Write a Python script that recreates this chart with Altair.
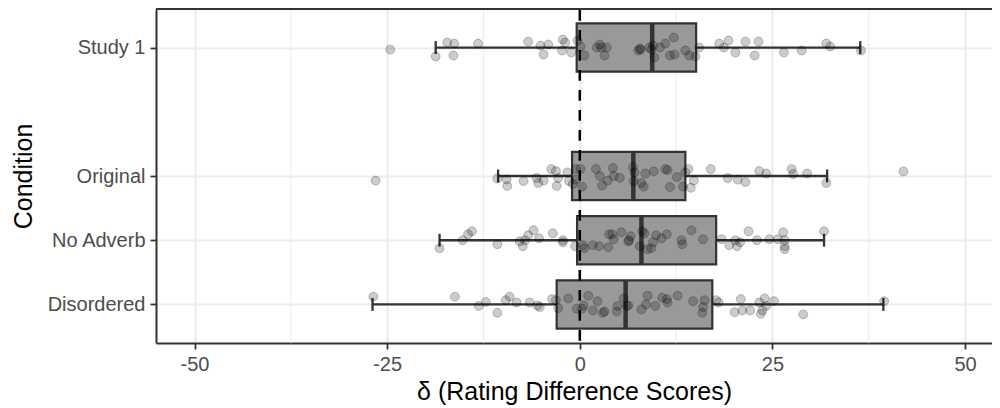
import altair as alt
import pandas as pd

# ---- summary statistics per condition ----
conditions = ["Study 1", "Original", "No Adverb", "Disordered"]
cond_pos = [5, 3, 2, 1]
q1 = [-0.4, -1.0, -0.35, -3.0]
median = [9.4, 6.95, 8.0, 5.95]
q3 = [15.1, 13.7, 17.7, 17.2]
whisker_lo = [-18.7, -10.6, -18.2, -26.9]
whisker_hi = [36.4, 32.1, 31.7, 39.4]

# ---- individual scores and their vertical jitter (downward offsets) ----
study1_scores = [-24.6, -18.7, -17.2, -16.3, -16.4, -13.2, -6.7, -5.1, -4.7, -4.1,
                 -2.2, -1.9, -2.3, -1.1, -0.3, 0.1, 0.6, 2.2, 2.8, 3.5,
                 3.2, 7.8, 7.9, 9.3, 9.7, 10.4, 11.1, 12.2, 11.7, 12.3,
                 13.7, 14.2, 15.0, 15.5, 18.1, 18.7, 19.3, 20.2, 21.5, 22.7,
                 23.2, 26.5, 28.8, 32.0, 32.5, 36.5, 9.0, 9.5, 7.6, 2.6]
study1_jitter = [2, 9, -5, -4, 8, -4, -6, -2, 7, -3,
                 -8, -5, 3, 5, -7, -1, 8, 0, 0, 0,
                 8, 1, 2, 2, 10, 0, -4, -10, 8, 7,
                 3, 8, 9, 0, -4, 0, -7, 5, -6, 8,
                 -6, 5, 3, -4, -1, 3, 0, -2, 3, -3]

original_scores = [-26.5, -10.7, -9.5, -9.4, -7.3, -5.6, -5.4, -4.7, -3.7, -3.1,
                   -3.0, -2.8, -1.6, -1.4, -0.9, -0.5, 0.1, 0.3, -0.5, 2.1,
                   2.6, 2.9, 3.6, 4.3, 4.4, 5.2, 6.9, 7.1, 7.0, 8.0,
                   8.3, 8.5, 9.6, 11.1, 11.4, 11.7, 12.6, 13.4, 13.7, 14.1,
                   14.4, 14.8, 17.0, 19.2, 20.5, 21.5, 23.3, 24.2, 27.5, 27.7,
                   29.5, 32.0, 42.0]
original_jitter = [4.6, 2.5, 3.5, 10, 5, 2, 7, 4.6, -7, -5,
                   10, 2, -3.6, 5, 8, -7, -7, 10.7, 3.6, -7,
                   0, 9.6, 4.6, -8, 0, 1.8, -9, -3.6, 5, 7,
                   10.7, -2.5, -4.6, -7, -6, 11, 1, 10.7, -3.6, -7,
                   11.8, 4.6, -7, 2, 3.6, 6, -5, -2.5, -7, -2,
                   -2.5, 7, -4.6]

noadverb_scores = [-18.2, -15.2, -14.5, -14.0, -10.7, -7.8, -7.4, -7.1, -6.7, -6.0,
                   -5.3, -3.5, -2.2, -2.2, -0.6, 0.4, 0.6, 1.7, 2.5, 3.7,
                   3.8, 4.2, 4.4, 5.4, 6.3, 6.4, 6.6, 7.8, 8.1, 8.4,
                   8.8, 9.3, 9.5, 9.9, 10.6, 11.3, 13.2, 13.3, 14.5, 16.0,
                   18.4, 19.4, 20.2, 20.4, 20.8, 21.9, 23.0, 24.6, 25.7, 26.4,
                   26.6, 26.6, 26.6, 31.7]
noadverb_jitter = [8, 0, -6, -9, 4, 1, 6, 0, -5, -10,
                   -2, -7, 0, 2, 6, 5, 8, 5, 6, 7,
                   -6, -6, -1, -8, 1, 0, -4, 6, -9, -7,
                   9, 8, 2, -5, -2, -6, 0, 4, -10, -1,
                   -1, 5, 0, 6, 2, -9, 0, -1, -1, -8,
                   0, 6, 9, -9]

disordered_scores = [-26.8, -16.2, -13.1, -12.2, -10.7, -9.6, -9.1, -8.2, -6.5, -5.5,
                     -5.2, -3.6, -3.1, -2.8, -1.5, -0.4, 0.3, 0.5, 1.1, 1.7,
                     2.3, 3.0, 3.2, 4.8, 4.9, 5.7, 6.1, 6.3, 8.0, 8.6,
                     8.8, 9.8, 10.7, 11.3, 11.4, 12.7, 14.7, 15.9, 16.0, 16.2,
                     17.7, 18.0, 20.1, 20.9, 21.1, 22.1, 23.3, 23.5, 23.7, 24.0,
                     24.2, 25.2, 29.0, 39.5]
disordered_jitter = [-7.8, -7.8, 1.5, -2.6, 8.4, -4.3, -7.8, -2, -2, 1,
                     2.6, -5.4, -4.3, 3.6, -6, 4.3, 4.3, 1, -8.8, 6,
                     -3.3, 8.4, 7, 7, 1.5, -6, 1.5, 1, 5, 0,
                     -8.8, 1.5, -6.8, -5.4, -2, -8.8, -3.3, 8.4, 2.6, -4.3,
                     -4.3, -2, 7.7, -5.4, 6, 6, -2, 9.4, 6, -6,
                     1.5, -3.3, 10, -3.3]

x_ticks = [-50, -25, 0, 25, 50]
x_minor = [-37.5, -12.5, 12.5, 37.5]
ref_line = [0]
x_domain = [-55, 53.5]
y_domain = [0.4, 5.6]

JITTER_PER_STEP = 64.5   # jitter values above are in 1/64.5 of one condition step
BOX_HALF = 0.375
CAP_HALF = 0.1

# ---- tables ----
box_df = pd.DataFrame({
    "cond": conditions, "pos": cond_pos, "q1": q1, "median": median, "q3": q3,
    "lo": whisker_lo, "hi": whisker_hi,
})
box_df["ylo"] = box_df["pos"] - BOX_HALF
box_df["yhi"] = box_df["pos"] + BOX_HALF
box_df["clo"] = box_df["pos"] - CAP_HALF
box_df["chi"] = box_df["pos"] + CAP_HALF

rows = []
for cond, pos, sc, jt in zip(conditions, cond_pos,
                             [study1_scores, original_scores, noadverb_scores, disordered_scores],
                             [study1_jitter, original_jitter, noadverb_jitter, disordered_jitter]):
    for s, j in zip(sc, jt):
        rows.append({"cond": cond, "score": s, "y": pos - j / JITTER_PER_STEP})
pts_df = pd.DataFrame(rows)

FONT = "Liberation Sans"
DARK = "#333333"
GRID = "#ebebeb"

xs = alt.Scale(domain=x_domain, nice=False, zero=False)
ys = alt.Scale(domain=y_domain, nice=False, zero=False)

label_expr = " : ".join(
    [f"datum.value == {p} ? '{c}'" for p, c in zip(cond_pos[:-1], conditions[:-1])]
) + f" : '{conditions[-1]}'"

x_axis = alt.Axis(
    values=x_ticks, title="δ (Rating Difference Scores)", labelExpr="'' + datum.value",
    grid=True, gridColor=GRID, gridWidth=2,
    domainColor=DARK, domainWidth=2, tickColor=DARK, tickWidth=1.8, tickSize=6,
    labelFont=FONT, labelFontSize=20, labelColor="#4d4d4d", labelPadding=5,
    titleFont=FONT, titleFontSize=25, titleFontWeight="normal", titleColor="black",
    titleBaseline="alphabetic", titleY=56,
)
y_axis = alt.Axis(
    values=cond_pos, title="Condition", labelExpr=label_expr,
    grid=True, gridColor=GRID, gridWidth=2,
    domainColor=DARK, domainWidth=2, tickColor=DARK, tickWidth=1.8, tickSize=6,
    labelFont=FONT, labelFontSize=20, labelColor="#4d4d4d", labelPadding=5,
    titleFont=FONT, titleFontSize=25, titleFontWeight="normal", titleColor="black",
    titleAngle=270, titleBaseline="alphabetic", titleAlign="center", titleX=-125, titleY=167,
)


def X(field):
    return alt.X(field, scale=xs, axis=x_axis)


def Y(field):
    return alt.Y(field, scale=ys, axis=y_axis)


minor = alt.Chart(pd.DataFrame({"x": x_minor})).mark_rule(
    color=GRID, strokeWidth=1
).encode(x=X("x:Q"))

whisk = alt.Chart(box_df).mark_rule(color=DARK, strokeWidth=2.3).encode(
    x=X("lo:Q"), x2="hi:Q", y=Y("pos:Q"),
)
cap_lo = alt.Chart(box_df).mark_rule(color=DARK, strokeWidth=2.3).encode(
    x=X("lo:Q"), y=Y("clo:Q"), y2="chi:Q",
)
cap_hi = alt.Chart(box_df).mark_rule(color=DARK, strokeWidth=2.3).encode(
    x=X("hi:Q"), y=Y("clo:Q"), y2="chi:Q",
)
boxes = alt.Chart(box_df).mark_rect(fill="#999999", stroke=DARK, strokeWidth=2.2).encode(
    x=X("q1:Q"), x2="q3:Q", y=Y("ylo:Q"), y2="yhi:Q",
)
med = alt.Chart(box_df).mark_rule(color=DARK, strokeWidth=4.5).encode(
    x=X("median:Q"), y=Y("ylo:Q"), y2="yhi:Q",
)
points = alt.Chart(pts_df).mark_circle(
    size=80, fill="black", fillOpacity=0.2, stroke="black", strokeOpacity=0.22,
    strokeWidth=1, opacity=1,
).encode(x=X("score:Q"), y=Y("y:Q"))
vline = alt.Chart(pd.DataFrame({"x": ref_line})).mark_rule(
    color="black", strokeWidth=2.5, strokeDash=[10.7, 9.3], strokeDashOffset=19
).encode(x=X("x:Q"))
top_border = alt.Chart(pd.DataFrame({"y": [y_domain[1]]})).mark_rule(
    color=DARK, strokeWidth=2
).encode(y=Y("y:Q"))

chart = alt.layer(
    minor, whisk, cap_lo, cap_hi, boxes, med, points, vline, top_border
).properties(
    width=836, height=334,
    autosize=alt.AutoSizeParams(type="none"),
    padding={"left": 148, "top": 1, "right": 0, "bottom": 62},
).configure_view(stroke="transparent")

chart.save("out.html", embed_options={"renderer": "svg", "actions": False})
